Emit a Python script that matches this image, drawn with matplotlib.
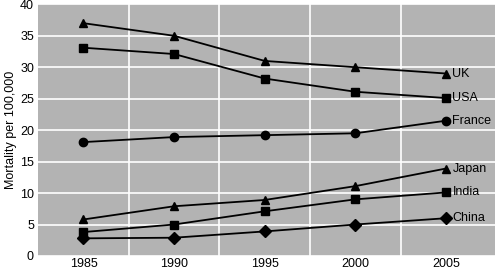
import matplotlib
matplotlib.use("Agg")
import matplotlib.pyplot as plt

plt.rcParams['font.family'] = ['Liberation Sans', 'DejaVu Sans']

years = [1985, 1990, 1995, 2000, 2005]
uk = [37.0, 35.0, 31.0, 30.0, 29.0]
usa = [33.1, 32.1, 28.2, 26.1, 25.1]
france = [18.1, 18.9, 19.2, 19.5, 21.5]
japan = [5.8, 7.9, 8.9, 11.1, 13.9]
india = [3.8, 5.0, 7.1, 9.0, 10.1]
china = [2.8, 2.9, 3.9, 5.0, 6.0]

series = [
    ("UK", uk, "^"),
    ("USA", usa, "s"),
    ("France", france, "o"),
    ("Japan", japan, "^"),
    ("India", india, "s"),
    ("China", china, "D"),
]

fig = plt.figure(figsize=(4.95, 2.7), dpi=100)
ax = fig.add_axes([0.077, 0.052, 0.923, 0.932])
ax.set_facecolor("#b3b3b3")

for name, vals, mk in series:
    ax.plot(years, vals, color="black", lw=1.3, marker=mk, ms=6)
    ax.text(years[-1] + 0.35, vals[-1], name, fontsize=9, va="center", ha="left")

ax.set_xlim(1982.5, 2007.7)
ax.set_ylim(0, 40)
ax.set_xticks(years)
ax.set_yticks(range(0, 41, 5))
ax.set_xticks([1987.5, 1992.5, 1997.5, 2002.5], minor=True)
ax.grid(False)
ax.grid(True, which="minor", axis="x", color="white", lw=1.2)
ax.grid(True, which="major", axis="y", color="white", lw=1.2)
ax.set_axisbelow(True)
ax.tick_params(which="both", length=0, labelsize=9)
ax.tick_params(axis="x", pad=1.5)
ax.tick_params(axis="y", pad=3)
for s in ax.spines.values():
    s.set_visible(False)
ax.set_ylabel("Mortality per 100,000", fontsize=9, labelpad=2)

fig.savefig("out.png", dpi=100)
